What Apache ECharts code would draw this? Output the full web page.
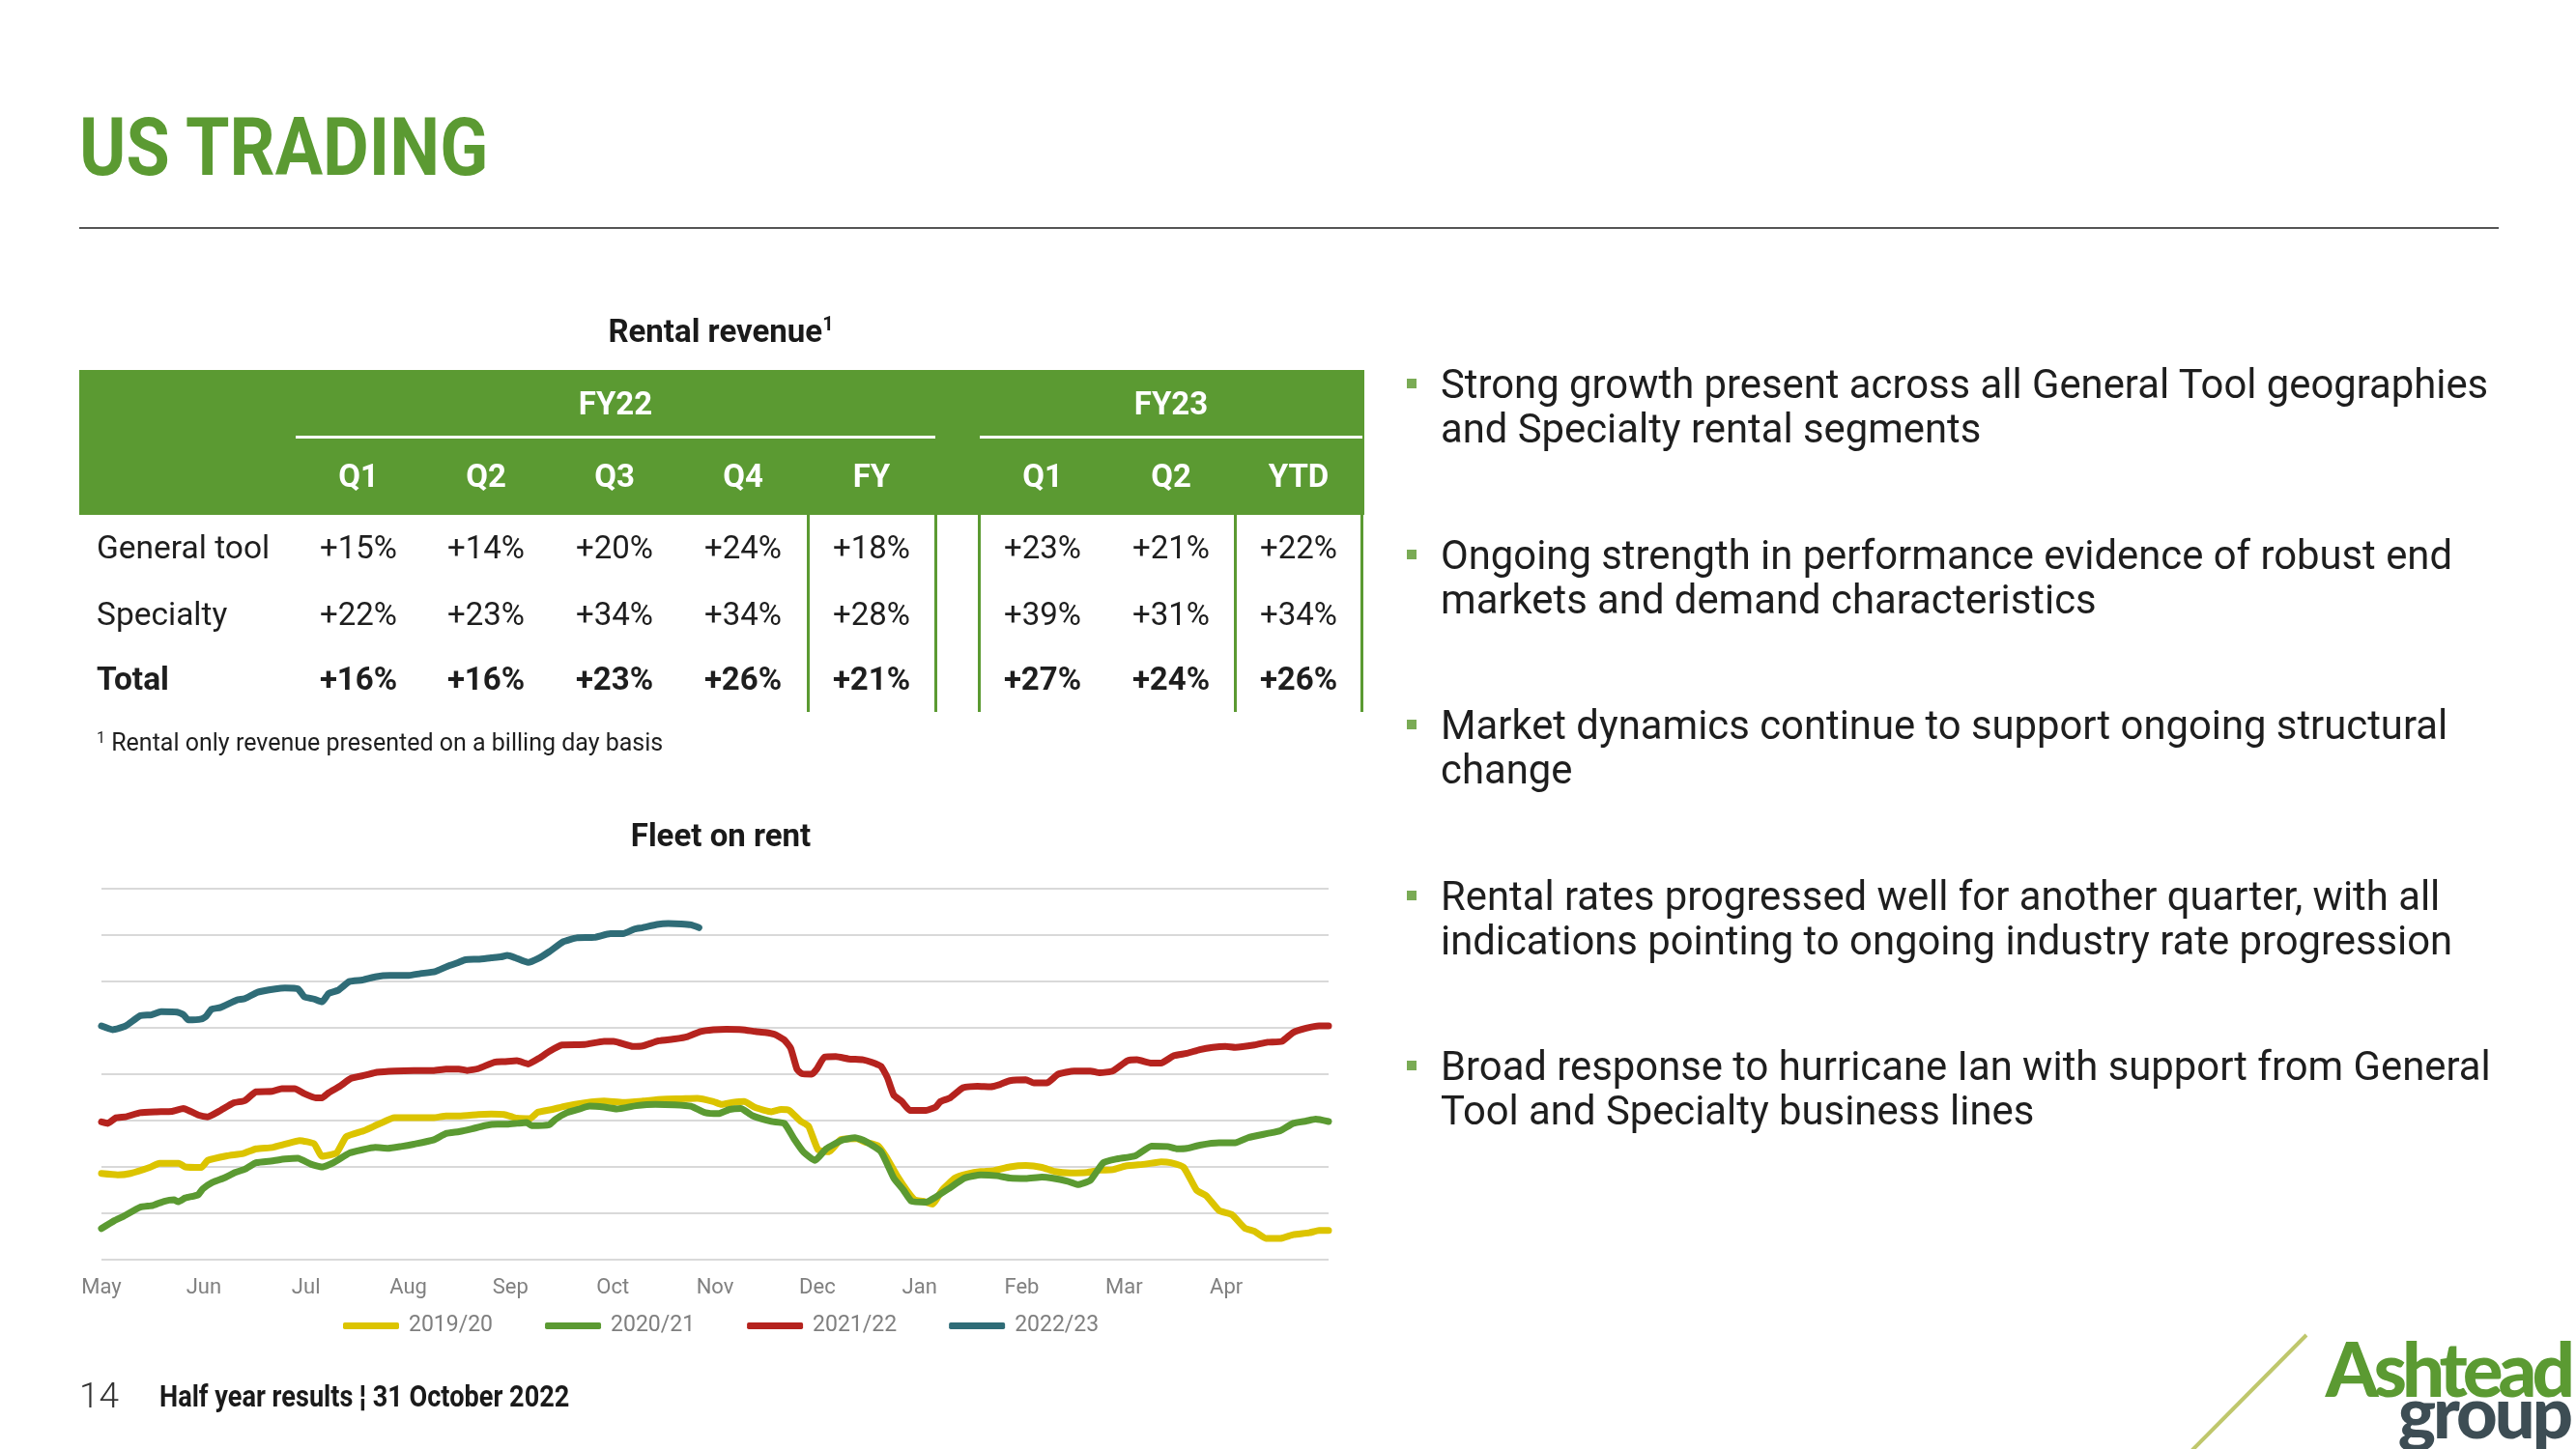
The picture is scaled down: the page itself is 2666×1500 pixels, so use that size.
<!DOCTYPE html>
<html>
<head>
<meta charset="utf-8">
<script src="https://cdn.jsdelivr.net/npm/echarts@6/dist/echarts.min.js"></script>
<style>
  html, body { margin:0; padding:0; background:#fff; }
  #page { position:relative; width:2666px; height:1500px; overflow:hidden; background:#fff; font-family: Roboto, "Noto Sans", sans-serif; color:#1e1e1e; }
  #chart { position:absolute; left:0; top:0; width:2666px; height:1500px; z-index:0; }
  .t { position:absolute; white-space:nowrap; z-index:2; }
  .c { transform: translateX(-50%); }
</style>
</head>
<body>
<div id="page">
  <div id="chart"></div>
</div>
<script>
// ---------------- DATA ----------------
const months = ['May','Jun','Jul','Aug','Sep','Oct','Nov','Dec','Jan','Feb','Mar','Apr'];
const seriesNames = ['2019/20','2020/21','2021/22','2022/23'];

const x1920 = [0,0.158,0.283,0.472,0.567,0.756,0.819,0.976,1.039,1.228,1.386,1.512,1.669,1.795,1.937,2.079,2.157,2.299,2.394,2.567,2.709,2.866,3.024,3.244,3.370,3.496,3.685,3.811,3.937,4.016,4.063,4.189,4.268,4.410,4.536,4.725,4.914,5.103,5.292,5.480,5.669,5.827,5.984,6.063,6.173,6.284,6.394,6.551,6.646,6.725,6.835,6.914,7.008,7.118,7.229,7.386,7.465,7.591,7.670,7.780,7.874,7.953,8.032,8.126,8.221,8.347,8.473,8.599,8.725,8.882,9.040,9.197,9.323,9.481,9.638,9.764,9.890,10.016,10.205,10.362,10.457,10.583,10.709,10.803,10.929,11.055,11.181,11.276,11.386,11.528,11.654,11.811,11.906,12.0];
const y1920 = [18.6,18.3,18.6,19.9,20.8,20.8,20.0,19.9,21.4,22.4,22.9,23.9,24.2,24.9,25.7,25.0,22.3,23.0,26.5,27.8,29.2,30.6,30.6,30.6,31.0,31.0,31.3,31.4,31.3,30.8,30.5,30.4,31.8,32.4,33.1,33.8,34.2,33.9,34.2,34.6,34.7,34.8,34.1,33.5,33.9,34.1,32.8,31.9,32.4,32.2,29.9,28.8,23.7,23.3,25.9,26.1,25.4,24.6,22.3,18.1,15.0,12.9,12.6,12.0,15.0,17.6,18.5,19.0,19.2,20.0,20.3,19.9,19.0,18.7,18.8,19.3,19.4,20.2,20.6,21.1,20.9,19.9,15.0,13.8,10.6,9.7,6.8,6.1,4.6,4.6,5.4,5.8,6.3,6.3];

const x2021 = [0,0.126,0.220,0.378,0.504,0.614,0.709,0.750,0.819,0.945,0.992,1.087,1.197,1.307,1.402,1.512,1.669,1.795,1.921,2.047,2.157,2.268,2.425,2.551,2.677,2.803,2.929,3.055,3.244,3.370,3.496,3.622,3.748,3.874,3.969,4.063,4.158,4.205,4.378,4.441,4.551,4.662,4.772,4.914,5.040,5.228,5.417,5.606,5.764,5.906,6.032,6.142,6.252,6.362,6.551,6.677,6.772,6.866,6.977,7.087,7.244,7.370,7.465,7.622,7.748,7.843,7.922,8.063,8.158,8.284,8.441,8.599,8.756,8.882,9.040,9.197,9.292,9.449,9.544,9.670,9.796,9.922,10.111,10.268,10.425,10.520,10.614,10.740,10.929,11.087,11.213,11.402,11.528,11.654,11.780,11.874,12.0];
const y2021 = [6.7,8.4,9.4,11.3,11.7,12.6,12.9,12.5,13.3,14.0,15.3,16.7,17.6,18.8,19.5,20.9,21.3,21.7,21.9,20.6,20.0,20.9,23.0,23.7,24.2,24.0,24.4,24.9,25.8,27.2,27.6,28.2,28.9,29.2,29.2,29.4,29.6,28.9,29.1,30.3,31.7,32.4,33.1,32.9,32.5,33.2,33.5,33.4,33.1,31.7,31.5,32.4,32.6,31.1,29.8,29.4,26.1,23.2,21.4,23.9,25.8,26.3,25.6,23.3,17.6,15.0,12.6,12.4,13.5,15.3,17.6,18.3,18.1,17.6,17.5,17.8,17.6,16.9,16.2,17.1,20.9,21.7,22.4,24.5,24.4,23.9,24.0,24.7,25.2,25.2,26.3,27.2,27.8,29.4,29.9,30.3,29.8];

const x2122 = [0,0.063,0.142,0.236,0.378,0.535,0.693,0.803,0.850,0.945,1.039,1.150,1.291,1.402,1.512,1.669,1.764,1.890,1.984,2.095,2.157,2.221,2.331,2.441,2.583,2.693,2.866,3.055,3.244,3.370,3.496,3.575,3.685,3.843,3.937,4.063,4.173,4.284,4.378,4.504,4.725,4.914,5.008,5.197,5.292,5.449,5.606,5.732,5.858,5.984,6.110,6.268,6.394,6.488,6.583,6.677,6.740,6.803,6.851,6.945,6.992,7.071,7.181,7.307,7.449,7.528,7.622,7.685,7.748,7.827,7.906,8.000,8.063,8.158,8.205,8.300,8.425,8.567,8.693,8.788,8.882,9.040,9.118,9.244,9.355,9.512,9.670,9.764,9.890,10.032,10.126,10.268,10.362,10.488,10.614,10.740,10.866,10.992,11.087,11.276,11.402,11.544,11.654,11.780,11.906,12.0];
const y2122 = [29.7,29.4,30.6,30.8,31.7,31.9,32.0,32.6,32.2,31.2,30.8,32.0,33.8,34.3,36.2,36.3,36.9,36.9,35.8,34.9,34.9,36.0,37.4,39.1,39.8,40.4,40.7,40.8,40.8,41.1,41.1,40.8,41.2,42.6,42.7,42.9,42.2,43.5,44.9,46.3,46.4,47.1,47.1,46.0,46.1,47.2,47.6,48.1,49.2,49.6,49.7,49.6,49.2,49.0,48.6,47.4,45.6,41.0,40.1,40.0,41.0,43.7,43.8,43.3,43.1,42.6,41.7,39.3,35.5,34.1,32.2,32.2,32.2,32.9,34.1,34.9,37.1,37.4,37.3,37.8,38.6,38.8,38.1,38.1,40.0,40.7,40.7,40.3,40.7,42.9,43.1,42.4,42.4,44.0,44.5,45.3,45.8,46.0,45.8,46.3,46.9,47.1,49.0,49.9,50.4,50.4];

const x2223 = [0,0.110,0.236,0.378,0.488,0.583,0.740,0.803,0.850,0.976,1.024,1.077,1.165,1.323,1.402,1.528,1.701,1.795,1.921,1.984,2.079,2.157,2.221,2.315,2.425,2.551,2.677,2.819,3.008,3.118,3.260,3.386,3.480,3.559,3.685,3.811,3.906,3.969,4.047,4.173,4.268,4.378,4.520,4.646,4.819,4.977,5.103,5.213,5.292,5.433,5.543,5.669,5.764,5.843];
const y2223 = [50.4,49.6,50.4,52.6,52.8,53.5,53.4,52.8,51.7,51.9,52.5,54.0,54.4,56.0,56.3,57.7,58.4,58.6,58.4,56.7,56.2,55.6,57.4,58.1,60.0,60.3,61.0,61.3,61.3,61.7,62.1,63.3,64.0,64.7,64.8,65.1,65.3,65.6,65.1,64.1,64.9,66.4,68.6,69.4,69.5,70.3,70.3,71.3,71.6,72.3,72.5,72.4,72.2,71.6];

// Table data
const tblRows = ['General tool','Specialty','Total'];
const fy22Cols = ['Q1','Q2','Q3','Q4','FY'];
const fy23Cols = ['Q1','Q2','YTD'];
const genTool  = ['+15%','+14%','+20%','+24%','+18%','+23%','+21%','+22%'];
const specialty= ['+22%','+23%','+34%','+34%','+28%','+39%','+31%','+34%'];
const totalRow = ['+16%','+16%','+23%','+26%','+21%','+27%','+24%','+26%'];

const bullets = [
  ['Strong growth present across all General Tool geographies','and Specialty rental segments'],
  ['Ongoing strength in performance evidence of robust end','markets and demand characteristics'],
  ['Market dynamics continue to support ongoing structural','change'],
  ['Rental rates progressed well for another quarter, with all','indications pointing to ongoing industry rate progression'],
  ['Broad response to hurricane Ian with support from General','Tool and Specialty business lines']
];

// ---------------- LAYOUT ----------------
const GREEN = '#5b9a32';
const page = document.getElementById('page');
function box(x, y, w, h, bg) {
  const d = document.createElement('div');
  d.style.cssText = `position:absolute;left:${x}px;top:${y}px;width:${w}px;height:${h}px;background:${bg};z-index:1;`;
  page.appendChild(d); return d;
}
function txt(s, x, cy, size, weight, color, align, extra) {
  const d = document.createElement('div');
  const lh = Math.round(size * 1.2);
  d.className = 't' + (align === 'c' ? ' c' : '');
  d.style.cssText += `left:${x}px;top:${cy - lh/2}px;font-size:${size}px;line-height:${lh}px;font-weight:${weight};color:${color};` + (extra || '');
  d.innerHTML = s;
  page.appendChild(d); return d;
}

// Title & rule
txt('US TRADING', 82, 152, 84, 700, GREEN, 'l', 'transform:scaleX(0.875);transform-origin:0 50%;');
box(82, 235, 2504, 2, '#555');

// Table
txt('Rental revenue<sup style="font-size:20px;vertical-align:12px;line-height:0">1</sup>', 746, 343, 33, 700, '#1a1a1a', 'c');
box(82, 383, 1330, 150, GREEN);
box(306, 451, 662, 3, '#fff');
box(1014, 451, 396, 3, '#fff');
txt('FY22', 637, 418, 33, 700, '#fff', 'c');
txt('FY23', 1212, 418, 33, 700, '#fff', 'c');
const colX = [371, 503, 636, 769, 902, 1079, 1212, 1344];
const hdr = fy22Cols.concat(fy23Cols);
hdr.forEach((h, i) => txt(h, colX[i], 493, 33, 700, '#fff', 'c'));
[836, 968, 1013, 1278, 1409].forEach(x => box(x - 1, 533, 3, 204, GREEN));
const rowY = [567, 636, 703];
const rowVals = [genTool, specialty, totalRow];
tblRows.forEach((r, ri) => {
  const w = ri === 2 ? 700 : 400;
  txt(r, 100, rowY[ri], 33.5, w, '#1e1e1e', 'l');
  rowVals[ri].forEach((v, ci) => txt(v, colX[ci], rowY[ri], 33, w, '#1e1e1e', 'c'));
});
txt('<sup style="font-size:16px;vertical-align:8px;line-height:0">1</sup> Rental only revenue presented on a billing day basis', 100, 769, 25, 400, '#1e1e1e', 'l');

// Chart title
txt('Fleet on rent', 746, 865, 33, 700, '#1a1a1a', 'c');

// Bullets
bullets.forEach((b, i) => {
  const cy = 398 + i * 176.5;
  box(1456, cy - 6, 10, 10, '#7aab55');
  txt(b[0], 1491, cy, 41.8, 400, '#1e1e1e', 'l');
  txt(b[1], 1491, cy + 46, 41.8, 400, '#1e1e1e', 'l');
});

// Footer
txt('14', 82, 1445, 37, 300, '#333', 'l');
txt('Half year results ¦ 31 October 2022', 165, 1445, 31, 700, '#1a1a1a', 'l', 'transform:scaleX(0.875);transform-origin:0 50%;');

// Logo
const svgNS = 'http://www.w3.org/2000/svg';
const svg = document.createElementNS(svgNS, 'svg');
svg.setAttribute('width', 2666); svg.setAttribute('height', 1500);
svg.style.cssText = 'position:absolute;left:0;top:0;z-index:1;pointer-events:none;';
const ln = document.createElementNS(svgNS, 'line');
ln.setAttribute('x1', 2387); ln.setAttribute('y1', 1382); ln.setAttribute('x2', 2268); ln.setAttribute('y2', 1502);
ln.setAttribute('stroke', '#bfc76c'); ln.setAttribute('stroke-width', 4);
svg.appendChild(ln); page.appendChild(svg);
txt('Ashtead', 0, 1416, 78, 900, GREEN, 'l', 'left:auto;right:6px;font-family:Lato,Roboto,sans-serif;letter-spacing:-5px;');
txt('group', 0, 1460, 74, 900, '#3d4d54', 'l', 'left:auto;right:6px;font-family:Lato,Roboto,sans-serif;letter-spacing:-3px;');

// ---------------- CHART ----------------
const chart = echarts.init(document.getElementById('chart'), null, { renderer: 'canvas' });
const colors = ['#dcc400', '#5b9a32', '#b5231e', '#2f6c77'];
const xs = [x1920, x2021, x2122, x2223];
const ys = [y1920, y2021, y2122, y2223];
chart.setOption({
  animation: false,
  color: colors,
  grid: { left: 105, right: 1291, top: 920, bottom: 196, containLabel: false },
  xAxis: {
    type: 'value', min: 0, max: 12, interval: 1,
    axisLine: { show: false }, axisTick: { show: false }, splitLine: { show: false },
    axisLabel: { margin: 18, color: '#808080', fontSize: 22, fontFamily: 'Roboto',
      formatter: v => months[v] || '' }
  },
  yAxis: {
    type: 'value', min: 0, max: 80, interval: 10,
    axisLine: { show: false }, axisTick: { show: false }, axisLabel: { show: false },
    splitLine: { lineStyle: { color: '#d9d9d9', width: 2 } }
  },
  legend: {
    left: 350, top: 1356, icon: 'roundRect', itemWidth: 58, itemHeight: 7, itemGap: 54,
    textStyle: { color: '#7f7f7f', fontSize: 23, fontFamily: 'Roboto', padding: [0, 0, 0, 5] },
    data: seriesNames
  },
  series: seriesNames.map((n, i) => ({
    name: n, type: 'line', showSymbol: false, symbol: 'none', smooth: 0.15,
    lineStyle: { width: 7, color: colors[i], cap: 'round', join: 'round' },
    itemStyle: { color: colors[i] },
    data: xs[i].map((x, j) => [x, ys[i][j]])
  }))
});
</script>
</body>
</html>
